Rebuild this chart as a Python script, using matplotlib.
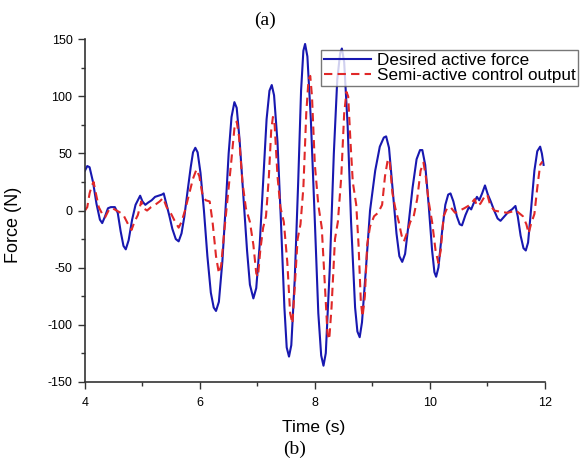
import matplotlib.pyplot as plt
from matplotlib.ticker import MultipleLocator

# Desired active force (blue, solid)
t_des = [4.00, 4.04, 4.08, 4.14, 4.20, 4.26, 4.30, 4.35, 4.40, 4.45, 4.52, 4.57, 4.62, 4.67, 4.71,
         4.76, 4.82, 4.88, 4.93, 4.96, 5.00, 5.05, 5.10, 5.16, 5.22, 5.28, 5.34, 5.37, 5.42, 5.47,
         5.52, 5.58, 5.63, 5.68, 5.73, 5.78, 5.84, 5.88, 5.92, 5.96, 6.01, 6.07, 6.13, 6.19, 6.24,
         6.28, 6.33, 6.39, 6.45, 6.50, 6.55, 6.60, 6.64, 6.69, 6.76, 6.82, 6.87, 6.93, 6.98, 7.04,
         7.10, 7.16, 7.21, 7.25, 7.29, 7.35, 7.41, 7.47, 7.51, 7.55, 7.59, 7.65, 7.71, 7.76, 7.80,
         7.83, 7.87, 7.93, 8.00, 8.06, 8.11, 8.15, 8.19, 8.26, 8.33, 8.39, 8.44, 8.47, 8.51, 8.57,
         8.63, 8.70, 8.74, 8.78, 8.82, 8.89, 8.96, 9.05, 9.13, 9.20, 9.24, 9.29, 9.36, 9.42, 9.47,
         9.52, 9.57, 9.63, 9.70, 9.77, 9.83, 9.87, 9.92, 9.98, 10.04, 10.08, 10.11, 10.15, 10.21, 10.27,
         10.32, 10.36, 10.41, 10.47, 10.52, 10.56, 10.62, 10.68, 10.72, 10.76, 10.82, 10.86, 10.91, 10.96, 11.01,
         11.06, 11.12, 11.18, 11.23, 11.30, 11.37, 11.43, 11.49, 11.53, 11.58, 11.63, 11.67, 11.71, 11.76, 11.82,
         11.87, 11.92, 11.95, 11.98]
f_des = [35, 39, 38, 25, 6, -8, -11, -5, 2, 3, 3, -2, -18, -31, -34,
         -26, -8, 5, 10, 13, 8, 5, 7, 9, 12, 13, 14, 15, 5, -5,
         -16, -25, -27, -20, -5, 15, 38, 51, 55, 51, 33, 0, -40, -72, -85,
         -88, -80, -45, 5, 50, 82, 95, 90, 62, 10, -35, -65, -77, -68, -30,
         25, 80, 105, 110, 101, 60, -10, -85, -120, -128, -118, -60, 25, 105, 140,
         146, 135, 80, -10, -90, -127, -136, -125, -50, 50, 115, 138, 142, 130, 75,
         -10, -85, -106, -111, -98, -50, 0, 35, 56, 64, 65, 55, 15, -20, -40,
         -45, -38, -12, 20, 45, 53, 53, 40, 5, -35, -54, -58, -50, -20, 5,
         14, 15, 8, -5, -12, -13, -4, 3, 1, 6, 12, 9, 15, 22, 14,
         8, 0, -7, -9, -5, -1, 1, 4, -5, -22, -33, -35, -28, 0, 35,
         52, 56, 50, 40]

# Semi-active control output (red, dashed)
t_semi = [4.00, 4.04, 4.08, 4.12, 4.15, 4.19, 4.24, 4.30, 4.35, 4.42, 4.48, 4.55, 4.62, 4.68, 4.75,
          4.81, 4.86, 4.92, 4.98, 5.02, 5.08, 5.15, 5.22, 5.30, 5.36, 5.42, 5.50, 5.57, 5.63, 5.68,
          5.74, 5.80, 5.88, 5.94, 5.99, 6.04, 6.10, 6.17, 6.22, 6.28, 6.33, 6.37, 6.42, 6.48, 6.54,
          6.60, 6.64, 6.68, 6.74, 6.80, 6.87, 6.93, 6.98, 7.01, 7.05, 7.10, 7.15, 7.20, 7.24, 7.27,
          7.30, 7.35, 7.40, 7.46, 7.52, 7.57, 7.61, 7.64, 7.70, 7.75, 7.80, 7.85, 7.89, 7.92, 7.95,
          8.00, 8.06, 8.12, 8.18, 8.22, 8.25, 8.29, 8.35, 8.40, 8.46, 8.51, 8.55, 8.58, 8.62, 8.66,
          8.72, 8.76, 8.80, 8.83, 8.87, 8.91, 8.96, 9.03, 9.10, 9.17, 9.22, 9.27, 9.30, 9.35, 9.40,
          9.46, 9.51, 9.55, 9.60, 9.66, 9.72, 9.78, 9.84, 9.89, 9.93, 9.98, 10.04, 10.10, 10.15, 10.19,
          10.24, 10.30, 10.36, 10.44, 10.52, 10.60, 10.70, 10.78, 10.82, 10.88, 10.95, 11.00, 11.05, 11.12, 11.22,
          11.35, 11.50, 11.62, 11.68, 11.72, 11.76, 11.82, 11.87, 11.92, 11.96]
f_semi = [0, 3, 15, 22, 25, 15, 3, -3, -6, 1, 2, 0, -2, -5, -12,
          -17, -10, -4, 8, 2, 0, 3, 5, 8, 11, 3, -3, -10, -15, -10,
          0, 12, 28, 36, 30, 15, 9, 8, -10, -40, -55, -48, -20, 10, 40,
          72, 78, 65, 25, 2, -10, -30, -55, -58, -35, -15, -5, 30, 70, 82,
          75, 30, 3, -10, -45, -90, -99, -75, -25, -12, 20, 85, 115, 118, 100,
          40, 5, -15, -70, -108, -113, -85, -25, -10, 30, 85, 104, 100, 60, 25,
          5, -30, -80, -93, -75, -30, -14, -5, -2, 5, 30, 45, 44, 15, 2,
          -10, -22, -27, -20, -10, -5, 10, 35, 42, 30, 8, -10, -35, -46, -35,
          -5, 2, 3, -2, 0, 2, 5, 10, 4, 6, 12, 14, 5, 0, -1,
          -2, 0, -5, -12, -20, -12, -3, 20, 40, 43]

plt.rcParams['font.family'] = ['Liberation Sans', 'DejaVu Sans']
plt.rcParams['axes.unicode_minus'] = False

fig = plt.figure(figsize=(5.82, 4.58), dpi=100)
ax = fig.add_axes([0.146, 0.1666, 0.79, 0.7474])

ax.plot(t_des, f_des, color='#1818b0', lw=1.5, label='Desired active force')
ax.plot(t_semi, f_semi, color='#e02828', lw=1.5, ls=(0, (4, 2.5)), label='Semi-active control output')

ax.set_xlim(4, 12)
ax.set_ylim(-150, 150)
ax.xaxis.set_major_locator(MultipleLocator(2))
ax.xaxis.set_minor_locator(MultipleLocator(1))
ax.yaxis.set_major_locator(MultipleLocator(50))
ax.yaxis.set_minor_locator(MultipleLocator(25))
ax.tick_params(which='major', length=5, width=1, color='#333333', labelsize=9)
ax.tick_params(axis='y', which='major', pad=4)
ax.tick_params(axis='x', which='major', pad=6)
ax.tick_params(which='minor', length=3, width=1, color='#333333')
for s in ['top', 'right']:
    ax.spines[s].set_visible(False)
for s in ['left', 'bottom']:
    ax.spines[s].set_color('#333333')
    ax.spines[s].set_linewidth(1.2)

ax.set_xlabel('Time (s)', fontsize=12.5)
ax.set_ylabel('Force (N)', fontsize=13)
ax.xaxis.set_label_coords(0.498, -0.112)
ax.yaxis.set_label_coords(-0.137, 0.458)

leg = fig.legend(loc='upper left', bbox_to_anchor=(321 / 582, 1 - 50 / 458), fontsize=12.3,
                 fancybox=False, frameon=True, borderpad=0.15, handlelength=2.8,
                 handletextpad=0.3, labelspacing=0.05, borderaxespad=0)
leg.get_frame().set_edgecolor('#555555')
leg.get_frame().set_linewidth(1)

fig.text(265 / 582, 1 - 20 / 458, '(a)', family='Liberation Serif', fontsize=14, ha='center', va='center')
fig.text(295 / 582, 1 - 449 / 458, '(b)', family='Liberation Serif', fontsize=14, ha='center', va='center')

fig.savefig('out.png', dpi=100)
